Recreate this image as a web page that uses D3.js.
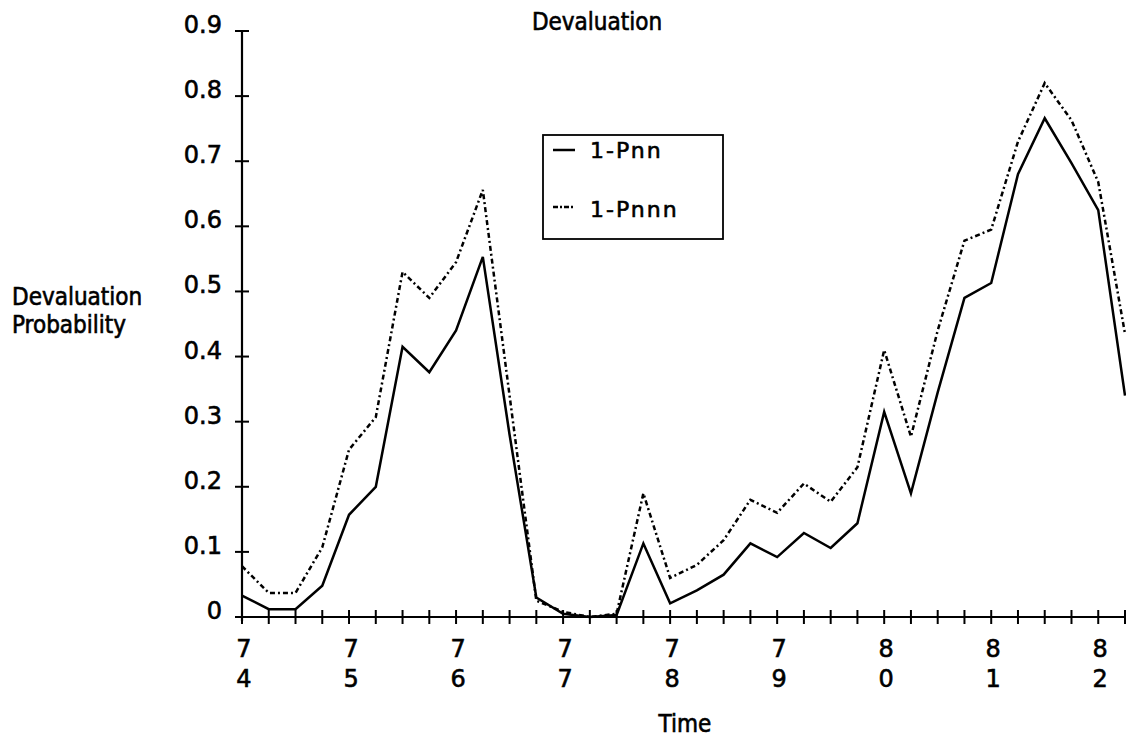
<!DOCTYPE html>
<html>
<head>
<meta charset="utf-8">
<title>Devaluation</title>
<script src="https://d3js.org/d3.v7.min.js"></script>
<style>
  body { margin:0; background:#fff; }
  text { fill:#000; stroke:#000; stroke-width:0.6px; font-family:"DejaVu Sans", sans-serif; }
  .cond { font-family:"DejaVu Sans Condensed", "DejaVu Sans", sans-serif; font-stretch:condensed; }
</style>
</head>
<body>
<div id="chart"></div>
<script>
// quarterly values, 1974 Q1 .. 1982 Q2
var pnn  = [0.033,0.012,0.012,0.048,0.157,0.200,0.415,0.376,0.440,0.553,
            0.280,0.030,0.005,0.000,0.003,0.113,0.021,0.041,0.065,0.113,
            0.092,0.129,0.106,0.144,0.315,0.190,0.345,0.490,0.513,0.680,
            0.766,0.697,0.625,0.340];
var pnnn = [0.078,0.037,0.037,0.107,0.257,0.307,0.530,0.490,0.545,0.656,
            0.340,0.025,0.008,0.000,0.005,0.190,0.060,0.080,0.118,0.180,
            0.160,0.205,0.177,0.230,0.410,0.277,0.440,0.578,0.595,0.730,
            0.820,0.763,0.668,0.435];
var years = ["74","75","76","77","78","79","80","81","82"];
var yearTicks = [0,4,8,12,16,20,24,28,32];
var yTicks = [0,0.1,0.2,0.3,0.4,0.5,0.6,0.7,0.8,0.9];
var yTickLabels = ["0","0.1","0.2","0.3","0.4","0.5","0.6","0.7","0.8","0.9"];
var seriesNames = ["1-Pnn","1-Pnnn"];

var w=1126,h=740;
var x=d3.scaleLinear().domain([0,33]).range([242,1125]);
var y=d3.scaleLinear().domain([0,0.9]).range([617,31]);
var idx=pnn.map(function(d,i){return i;});

var svg=d3.select("#chart").append("svg")
    .attr("width",w).attr("height",h);

// axes
svg.append("line").attr("x1",x(0)).attr("x2",x(0)).attr("y1",y(0.9)).attr("y2",y(0)+4)
    .style("stroke","#000").style("stroke-width",2.2);
svg.append("line").attr("x1",x(0)-6).attr("x2",x(33)).attr("y1",y(0)).attr("y2",y(0))
    .style("stroke","#000").style("stroke-width",2.2);

svg.selectAll(".ytick").data(yTicks).enter().append("line")
    .attr("x1",x(0)-7).attr("x2",x(0)+7)
    .attr("y1",function(d){return y(d);}).attr("y2",function(d){return y(d);})
    .style("stroke","#000").style("stroke-width",2);

svg.selectAll(".ylab").data(yTicks).enter().append("text")
    .attr("x",x(0)-20).attr("y",function(d){return y(d)+2;})
    .style("text-anchor","end").style("font-size","24px")
    .text(function(d,i){return yTickLabels[i];});

svg.selectAll(".xtick").data(idx).enter().append("line")
    .attr("x1",function(d){return x(d);}).attr("x2",function(d){return x(d);})
    .attr("y1",y(0)-7).attr("y2",y(0)+7)
    .style("stroke","#000").style("stroke-width",2);

var xl=svg.selectAll(".xlab").data(years).enter().append("text")
    .style("text-anchor","middle").style("font-size","24px");
xl.append("tspan")
    .attr("x",function(d,i){return x(yearTicks[i])+2;}).attr("y",657)
    .text(function(d){return d.charAt(0);});
xl.append("tspan")
    .attr("x",function(d,i){return x(yearTicks[i])+2;}).attr("y",687)
    .text(function(d){return d.charAt(1);});

// titles
svg.append("text").attr("class","cond").attr("x",597).attr("y",30)
    .style("text-anchor","middle").style("font-size","24px").text("Devaluation");
svg.append("text").attr("class","cond").attr("x",685).attr("y",732)
    .style("text-anchor","middle").style("font-size","24px").text("Time");
svg.append("text").attr("class","cond").attr("x",12).attr("y",305)
    .style("font-size","24px").text("Devaluation");
svg.append("text").attr("class","cond").attr("x",12).attr("y",333)
    .style("font-size","24px").text("Probability");

// lines
var line=d3.line()
    .x(function(d){return x(d[0]);})
    .y(function(d){return y(d[1]);});

svg.append("path")
    .datum(idx.map(function(i){return [i,pnnn[i]];}))
    .attr("d",line)
    .style("fill","none").style("stroke","#000").style("stroke-width",2.5)
    .style("stroke-dasharray","5,3,2,3");

svg.append("path")
    .datum(idx.map(function(i){return [i,pnn[i]];}))
    .attr("d",line)
    .style("fill","none").style("stroke","#000").style("stroke-width",2.5);

// legend
var lg=svg.append("g");
lg.append("rect").attr("x",543).attr("y",135).attr("width",180).attr("height",104)
    .style("fill","#fff").style("stroke","#000").style("stroke-width",1.8);
lg.append("line").attr("x1",553).attr("x2",575).attr("y1",150).attr("y2",150)
    .style("stroke","#000").style("stroke-width",2.5);
lg.append("line").attr("x1",553).attr("x2",575).attr("y1",207).attr("y2",207)
    .style("stroke","#000").style("stroke-width",2.5).style("stroke-dasharray","5,2,2,2");
lg.selectAll(".lt").data(seriesNames).enter().append("text")
    .attr("x",590).attr("y",function(d,i){return 158+i*59;})
    .style("font-size","22px").style("letter-spacing","2px")
    .text(function(d){return d;});
</script>
</body>
</html>
